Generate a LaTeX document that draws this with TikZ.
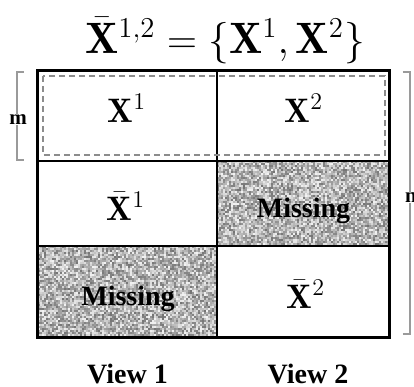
\documentclass[tikz,border=0pt]{standalone}
\usepackage{amsmath,amssymb}
\usepackage{fontspec}
\newfontfamily\timesfont{Liberation Serif}
\definecolor{bracketgray}{HTML}{9A9A9A}
\definecolor{dashgray}{HTML}{8C8C8C}

\begin{document}
\begin{tikzpicture}[
    x=0.5pt, y=-0.5pt,
    gridline/.style={black, line width=1.3pt},
    cellmath/.style={anchor=base, inner sep=0pt, font=\fontsize{17}{20}\selectfont},
    celltext/.style={anchor=base, inner sep=0pt, font=\timesfont\bfseries\fontsize{14}{16}\selectfont},
    sizebracket/.style={bracketgray, line width=0.8pt},
    sizelabel/.style={inner sep=0pt, font=\timesfont\bfseries\fontsize{10.5}{12}\selectfont},
]
\useasboundingbox (0,0) rectangle (414,387);
\pgfmathsetseed{1234}

% =============================================
% TITLE
% =============================================
\node[anchor=base, inner sep=0pt, font=\fontsize{22}{26}\selectfont] (title) at (225,53)
  {$\bar{\mathbf{X}}^{1,2} = \{\mathbf{X}^1, \mathbf{X}^2\}$};

% =============================================
% MISSING CELLS – grey noise
% =============================================
\foreach \ox/\oy/\w/\h in {217/161/173/85, 38/246/179/91} {
  \begin{scope}
    \clip (\ox,\oy) rectangle ++(\w,\h);
    \foreach \i in {0,...,89} {
      \foreach \j in {0,...,45} {
        \pgfmathsetmacro\g{int(46+50*rnd)}
        \fill[white!\g!black] (\ox+2*\i,\oy+2*\j) rectangle ++(2.1,2.1);
      }
    }
  \end{scope}
}

% =============================================
% GRID
% =============================================
\draw[gridline] (217,70) -- (217,337);
\draw[gridline] (38,161) -- (390,161);
\draw[gridline] (38,246) -- (390,246);
\draw[black, line width=1.5pt] (38,70) rectangle (390,337);

% Dashed box round the first row
\draw[dashgray, line width=0.75pt, dash pattern=on 3pt off 2pt] (43,76) rectangle (385,155);

% =============================================
% CELL LABELS
% =============================================
\node[cellmath] (xa) at (127,122) {$\mathbf{X}^1$};
\node[cellmath] (xb) at (304,122) {$\mathbf{X}^2$};
\node[cellmath] (xbara) at (126,220) {$\bar{\mathbf{X}}^1$};
\node[celltext] (missa) at (303.5,217) {Missing};
\node[celltext] (missb) at (128,305) {Missing};
\node[cellmath] (xbarb) at (306,308) {$\bar{\mathbf{X}}^2$};

% View labels
\node[celltext] (viewa) at (127.5,383) {View 1};
\node[celltext] (viewb) at (308,383) {View 2};

% =============================================
% SIZE BRACKETS
% =============================================
% m – left, first row only
\node[sizelabel] (msize) at (18,120) {m};
\draw[sizebracket] (24,72) -- (17,72) -- (msize.north -| 17,0);
\draw[sizebracket] (24,160) -- (17,160) -- (msize.south -| 17,0);

% n – right, whole table
\node[sizelabel] (nsize) at (411,198) {n};
\draw[sizebracket] (403,72) -- (410,72) -- (nsize.north -| 410,0);
\draw[sizebracket] (403,334) -- (410,334) -- (nsize.south -| 410,0);

\end{tikzpicture}
\end{document}
